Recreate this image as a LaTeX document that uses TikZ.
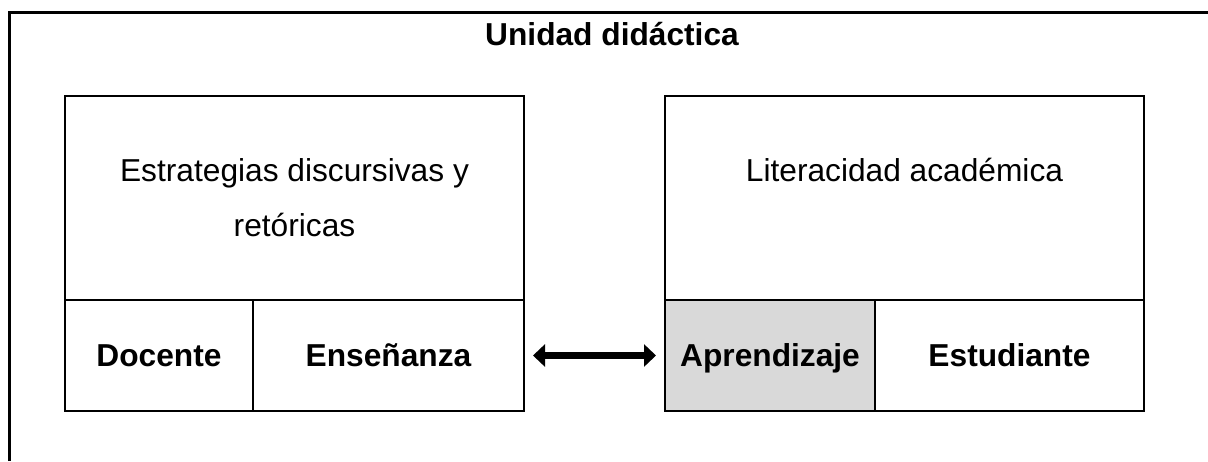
\documentclass[tikz,border=0pt]{standalone}
\usepackage{fontspec}
\setmainfont{Liberation Sans}
\usetikzlibrary{positioning}
\usetikzlibrary{arrows.meta}
\usepackage{xcolor}
\definecolor{celdagris}{HTML}{D9D9D9}

\begin{document}
\begin{tikzpicture}[x=1pt,y=1pt,
  caja/.style={draw, line width=1.8pt, rectangle, inner sep=0pt, outer sep=0pt},
  celda/.style={caja, minimum height=111pt, text height=21pt, text depth=0pt,
    font={\fontsize{31.7pt}{38pt}\selectfont\bfseries}},
  texto/.style={align=center, inner sep=0pt, font={\fontsize{31.7pt}{55pt}\selectfont}},
  flecha/.tip={Triangle[length=12pt,width=22pt]}]

\useasboundingbox (0,0) rectangle (1208,-461);

% marco exterior
\draw[line width=2.6pt] (9.3,-461) -- (9.3,-12.2) -- (1208,-12.2);

\node[texto, anchor=base, font={\fontsize{31.7pt}{38pt}\selectfont\bfseries}] (titulo) at (612,-45) {Unidad didáctica};

% lado izquierdo
\node[caja, minimum width=459pt, minimum height=204pt] (estr) at (294.5,-198) {};
\node[texto, anchor=north] (estrtxt) at (294.5,-158) {Estrategias discursivas y\\retóricas};
\node[celda, minimum width=188pt, below right=0pt of estr.south west] (doc) {Docente};
\node[celda, minimum width=271pt, right=0pt of doc] (ens) {Enseñanza};

% lado derecho
\node[caja, minimum width=479pt, minimum height=204pt] (lit) at (904.5,-198) {};
\node[texto, anchor=north] (littxt) at (904.5,-158) {Literacidad académica};
\node[celda, fill=celdagris, minimum width=210pt, below right=0pt of lit.south west] (apr) {Aprendizaje};
\node[celda, minimum width=269pt, right=0pt of apr] (est) {Estudiante};

\draw[flecha-flecha, line width=7.5pt, shorten <=9pt, shorten >=9pt] (ens.east) -- (apr.west);

\end{tikzpicture}
\end{document}
